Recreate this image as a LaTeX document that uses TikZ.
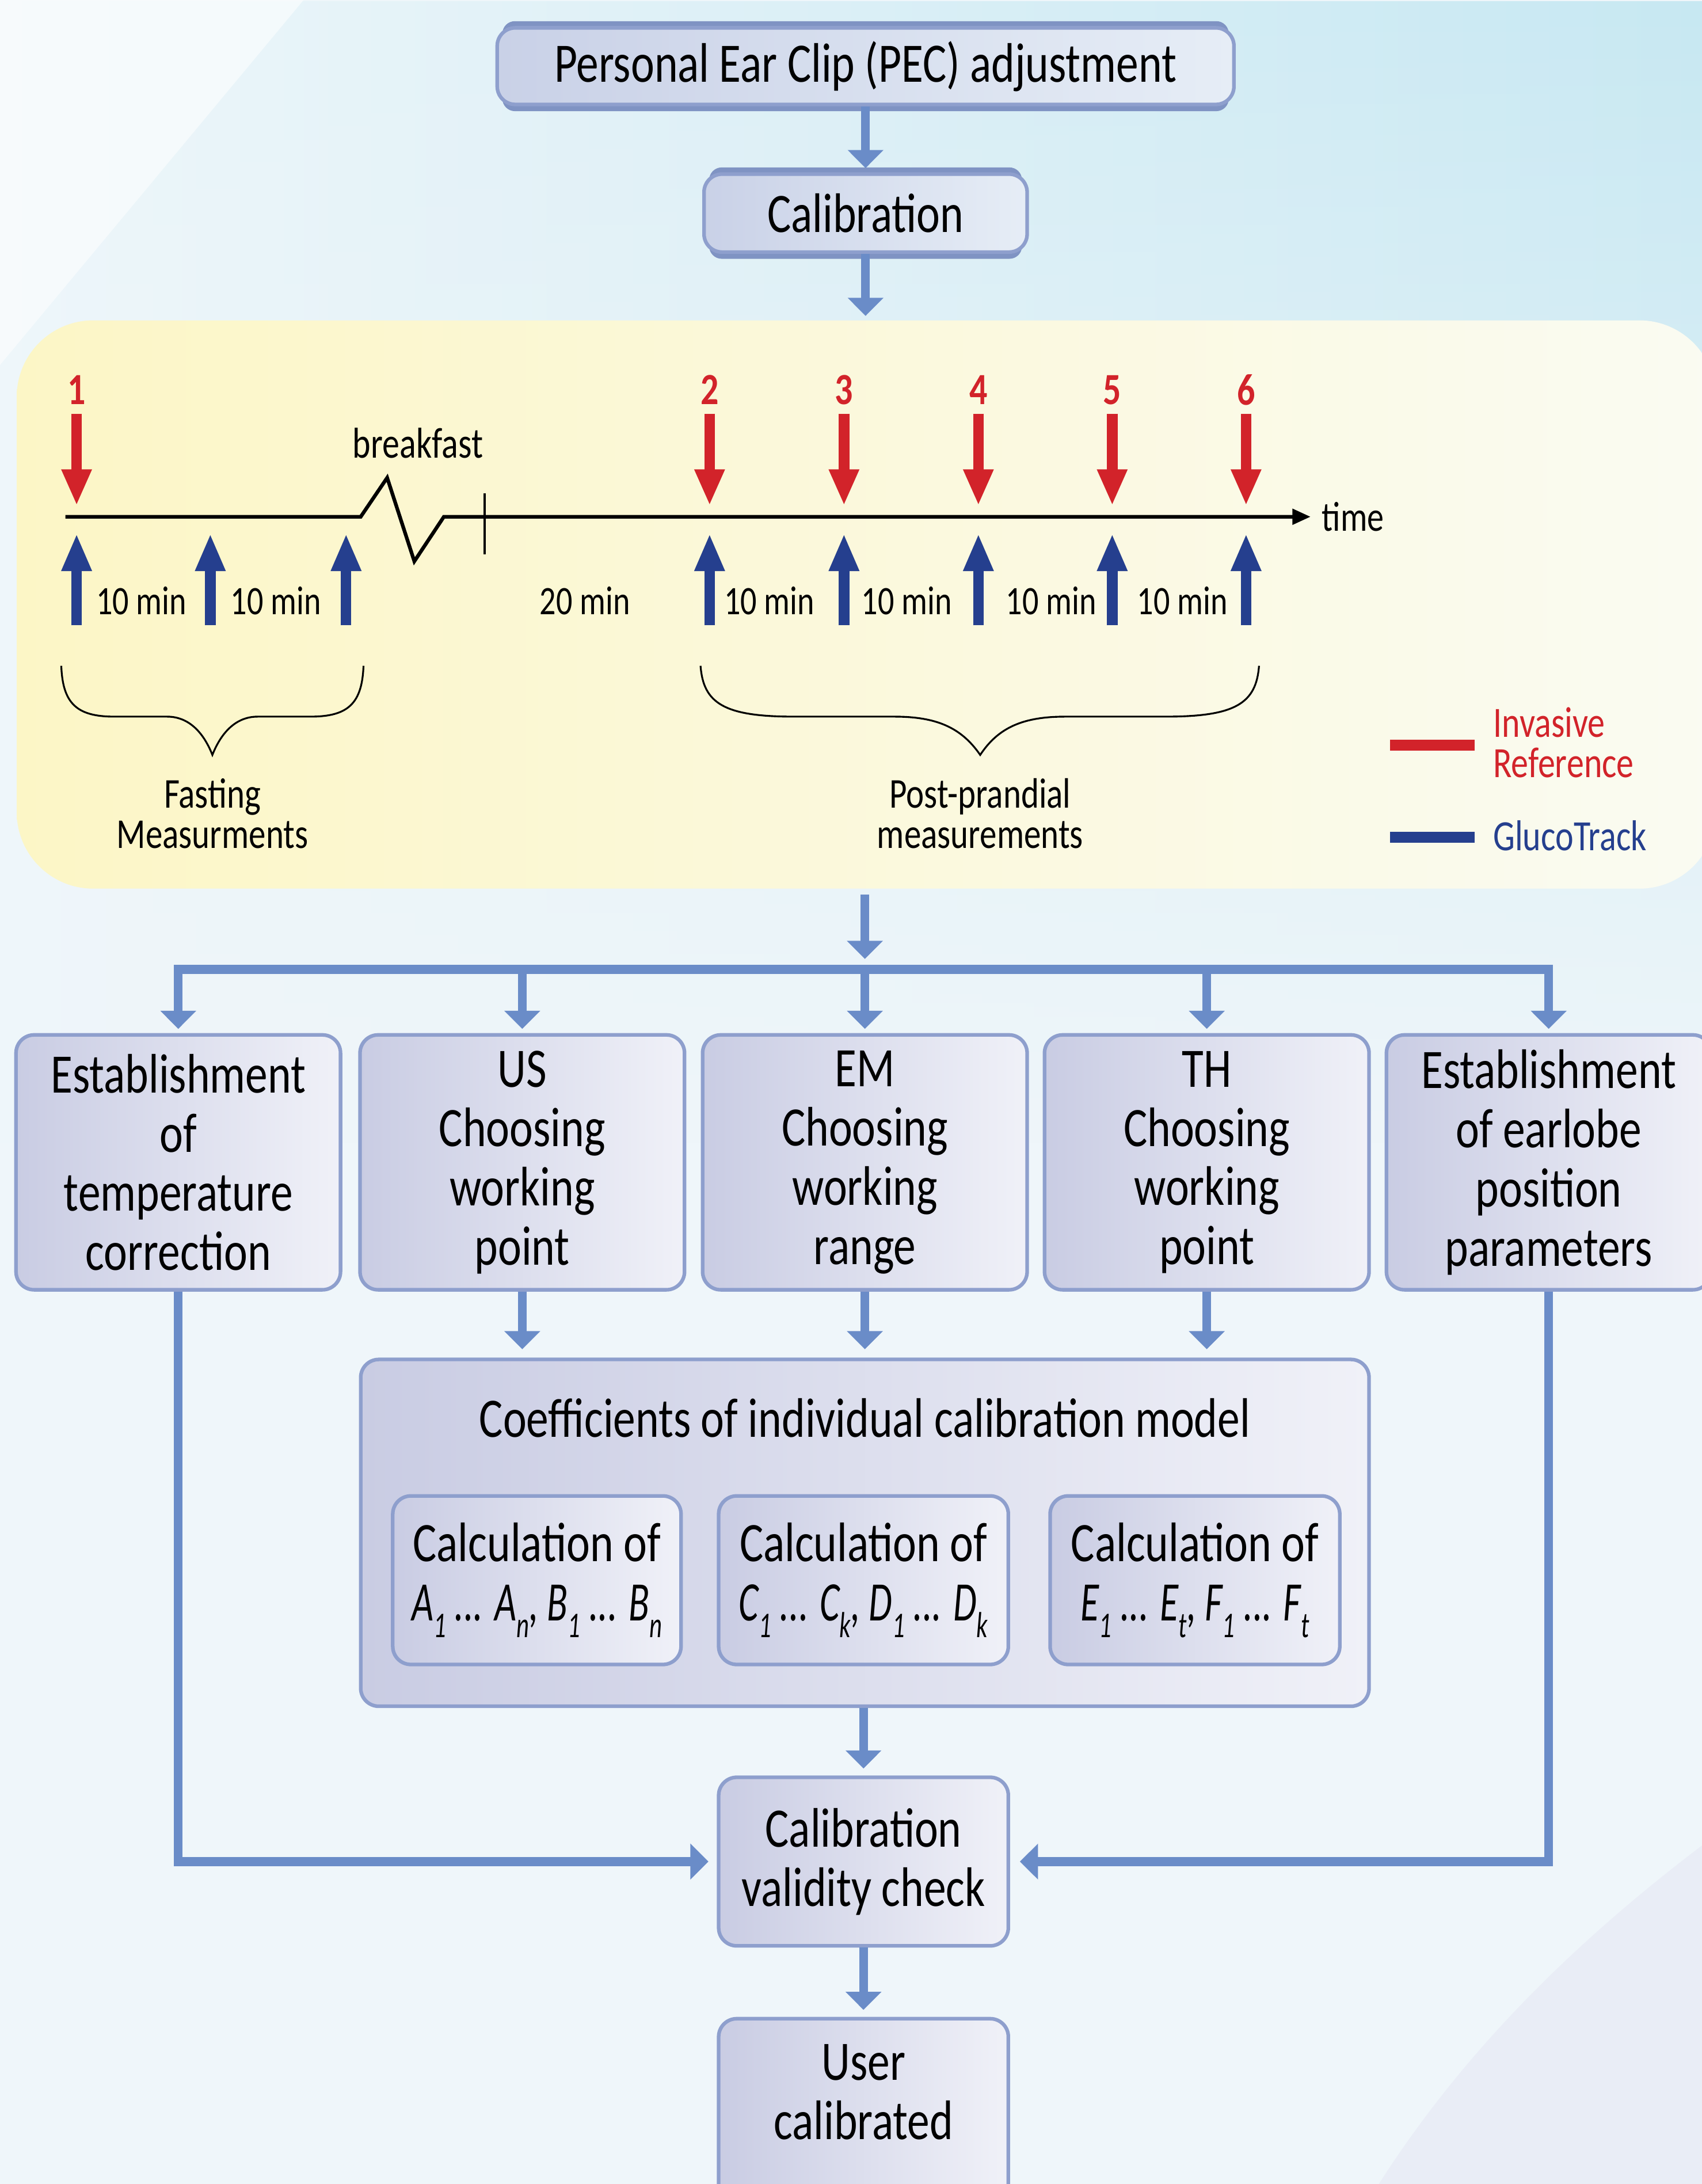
\documentclass[tikz,border=0pt]{standalone}
\usepackage{fontspec}
\setmainfont{Carlito}[FakeStretch=0.8]
\newfontfamily\mathfam{Carlito}[FakeStretch=0.68]
\usetikzlibrary{arrows.meta,calc,fadings}
\pgfdeclarelayer{bg}
\pgfsetlayers{bg,main}
\definecolor{connc}{HTML}{6A8CC8}
\definecolor{boxedge}{HTML}{8E9FCD}
\definecolor{boxdark}{HTML}{7F93C3}
\definecolor{boxL}{HTML}{C9CCE3}
\definecolor{boxR}{HTML}{F0F1F8}
\definecolor{tboxL}{HTML}{C9D1E7}
\definecolor{tboxR}{HTML}{E6EDF6}
\definecolor{yelL}{HTML}{FCF6C6}
\definecolor{yelR}{HTML}{FAFBF2}
\definecolor{bgpale}{HTML}{EFF6FA}
\definecolor{bgL}{HTML}{EEF6FA}
\definecolor{bgR}{HTML}{C7E8F2}
\definecolor{lav}{HTML}{E6E8F4}
\definecolor{redc}{HTML}{D2232A}
\definecolor{bluec}{HTML}{253F8E}
\newcommand\bigtxt{\fontsize{40}{42.5}\selectfont}
\newcommand\tltxt{\fontsize{29}{26}\selectfont}
\newcommand\lowtxt{\fontsize{30.5}{29}\selectfont}
\newcommand\legtxt{\fontsize{31}{29}\selectfont}
\newcommand\sbx[1]{\raisebox{-0.3em}{\fontsize{26}{26}\selectfont\mathfam\itshape #1}}
\newcommand\mline[1]{{\mathfam\itshape #1}}
\tikzfading[name=fadedown, top color=transparent!0, bottom color=transparent!100]
\begin{document}
\begin{tikzpicture}[x=1pt,y=-1pt,
  box/.style={draw=boxedge, line width=2.6pt, rounded corners=13pt, left color=boxL, right color=boxR, align=center, font=\bigtxt, inner sep=0pt, text=black},
  tbox/.style={box, left color=tboxL, right color=tboxR},
  conn/.style={draw=connc, line width=6.3pt, -{Triangle[length=13pt,width=25pt]}},
  connline/.style={draw=connc, line width=6.3pt, line cap=rect},
  redarr/.style={draw=redc, line width=7.6pt, -{Triangle[length=26pt,width=20pt]}},
  bluearr/.style={draw=bluec, line width=7.6pt, -{Triangle[length=27pt,width=20pt]}},
  lbl/.style={inner sep=0pt, font=\tltxt},
  brace/.style={draw=black, line width=1.3pt}]
\useasboundingbox (0,0) rectangle (1222,1568);
\clip (0,0) rectangle (1222,1568);
\begin{pgfonlayer}{bg}
\fill[bgpale] (0,0) rectangle (1222,1568);
\shade[left color=bgL, right color=bgR, path fading=fadedown] (0,0) rectangle (1222,820);
\fill[white, opacity=0.55] (0,0) -- (218,0) -- (0,262) -- cycle;
\fill[lav, opacity=0.6] (1222,1325) .. controls (1110,1410) and (1040,1490) .. (990,1568) -- (1222,1568) -- cycle;
\end{pgfonlayer}

% top boxes
\node[tbox, minimum width=529pt, minimum height=55pt] (pec) at (621.5,47.5) {Personal Ear Clip (PEC) adjustment};
\node[tbox, minimum width=232pt, minimum height=56pt] (cal) at (621.5,153) {Calibration};

% measurement region
\node[draw=none, rounded corners=55pt, left color=yelL, right color=yelR, minimum width=1220pt, minimum height=408pt, inner sep=0pt] (meas) at (622,434) {};

% timeline
\draw[line width=2.6pt, line join=miter, -{Triangle[length=13pt,width=11pt]}] (47,371) -- (259,371) -- (278,343) -- (297.5,403) -- (318.7,371) -- (941,371);
\draw[line width=2pt] (348,354) -- (348,398);
\node[lbl, anchor=west, font=\fontsize{30}{26}\selectfont] (time) at (949,371) {time};
\node[lbl, font=\legtxt] (bfast) at (300,318) {breakfast};

\foreach \x/\n in {55/1,509.5/2,606/3,702.5/4,798.6/5,894.7/6}{
  \draw[redarr] (\x,297) -- (\x,363);
  \node[lbl, text=redc, font=\fontsize{32}{26}\selectfont\bfseries] (num\n) at (\x,280) {\n};
}
\foreach \x in {55,151,248.5,509.5,606,702.5,798.6,894.7}{
  \draw[bluearr] (\x,449) -- (\x,383);
}
\node[lbl] (t1) at (101.5,431.5) {10 min};
\node[lbl] (t2) at (198,431.5) {10 min};
\node[lbl] (t3) at (420,431.5) {20 min};
\node[lbl] (t4) at (552.4,431.5) {10 min};
\node[lbl] (t5) at (651,431.5) {10 min};
\node[lbl] (t6) at (754.8,431.5) {10 min};
\node[lbl] (t7) at (849,431.5) {10 min};

% braces
\draw[brace] (44,478) .. controls (45,505) and (55,514.5) .. (82,514.5) -- (120,514.5) .. controls (137,514.5) and (147,528) .. (152.5,542) .. controls (158,528) and (168,514.5) .. (185,514.5) -- (223,514.5) .. controls (250,514.5) and (260,505) .. (261,478);
\draw[brace] (503,478) .. controls (505,505) and (520,514.5) .. (570,514.5) -- (642,514.5) .. controls (672,514.5) and (690,522) .. (703.8,542) .. controls (717,522) and (735,514.5) .. (765,514.5) -- (837,514.5) .. controls (887,514.5) and (902,505) .. (904,478);
\node[lbl, font=\lowtxt, align=center] (fast) at (152.5,584) {Fasting\\Measurments};
\node[lbl, font=\lowtxt, align=center] (post) at (703.8,584) {Post-prandial\\measurements};

% legend
\fill[redc] (998,531) rectangle (1059,539);
\fill[bluec] (998,597) rectangle (1059,605);
\node[lbl, anchor=west, align=left, text=redc, font=\legtxt] (leginv) at (1072,533) {Invasive\\Reference};
\node[lbl, anchor=west, text=bluec, font=\legtxt] (leggt) at (1072,600) {GlucoTrack};

% second row
\coordinate (busC) at (621,696);
\coordinate (busL) at (128,696);
\coordinate (busR) at (1112,696);
\node[box, minimum width=233pt, minimum height=183pt] (b1) at (128,834.5) {Establishment\\of\\temperature\\correction};
\node[box, minimum width=233pt, minimum height=183pt] (b2) at (375,834.5) {US\\Choosing\\working\\point};
\node[box, minimum width=233pt, minimum height=183pt] (b3) at (621,834.5) {EM\\Choosing\\working\\range};
\node[box, minimum width=233pt, minimum height=183pt] (b4) at (866.5,834.5) {TH\\Choosing\\working\\point};
\node[box, minimum width=233pt, minimum height=183pt] (b5) at (1112,834.5) {Establishment\\of earlobe\\position\\parameters};

% coefficient block
\node[box, minimum width=724pt, minimum height=249pt] (coef) at (621,1100.5) {};
\node[inner sep=0pt, font=\bigtxt] (coeft) at (621,1018) {Coefficients of individual calibration model};
\node[box, minimum width=207pt, minimum height=121pt] (s1) at (385.5,1134.5) {Calculation of\\\mline{A\sbx{1} ... A\sbx{n}, B\sbx{1} ... B\sbx{n}}};
\node[box, minimum width=208pt, minimum height=121pt] (s2) at (620,1134.5) {Calculation of\\\mline{C\sbx{1} ... C\sbx{k}, D\sbx{1} ... D\sbx{k}}};
\node[box, minimum width=208pt, minimum height=121pt] (s3) at (858,1134.5) {Calculation of\\\mline{E\sbx{1} ... E\sbx{t}, F\sbx{1} ... F\sbx{t}}};

\node[box, minimum width=208pt, minimum height=121pt] (valid) at (620,1336.5) {Calibration\\validity check};
\node[box, minimum width=208pt, minimum height=160pt, anchor=north] (user) at (620,1448) {User\\calibrated\\\strut};

% darker edges behind some boxes
\begin{pgfonlayer}{bg}
\foreach \b in {pec,cal,s1,s2,s3}{
  \fill[boxdark, rounded corners=9pt] ([xshift=5pt,yshift=3.5pt]\b.north west) rectangle ([xshift=-5pt,yshift=-3.5pt]\b.south east);
}
\end{pgfonlayer}

% connectors
\draw[conn, shorten >=3pt] (pec.south) -- (cal.north);
\draw[conn, shorten >=3pt] (cal.south) -- (cal.south |- meas.north);
\draw[conn, shorten <=4pt, shorten >=7.5pt] (busC |- meas.south) -- (busC);
\draw[connline] (busL) -- (busR);
\foreach \b in {b1,b2,b3,b4,b5}{
  \draw[conn, shorten >=3pt] (\b.north |- busL) -- (\b.north);
}
\foreach \b in {b2,b3,b4}{
  \draw[conn, shorten >=6pt] (\b.south) -- (\b.south |- coef.north);
}
\draw[conn, shorten >=5pt] (coef.south -| valid.north) -- (valid.north);
\draw[conn, shorten >=6pt] (b1.south) |- (valid.west);
\draw[conn, shorten >=7pt] (b5.south) |- (valid.east);
\draw[conn, shorten >=5pt] (valid.south) -- (user.north);
\end{tikzpicture}
\end{document}
